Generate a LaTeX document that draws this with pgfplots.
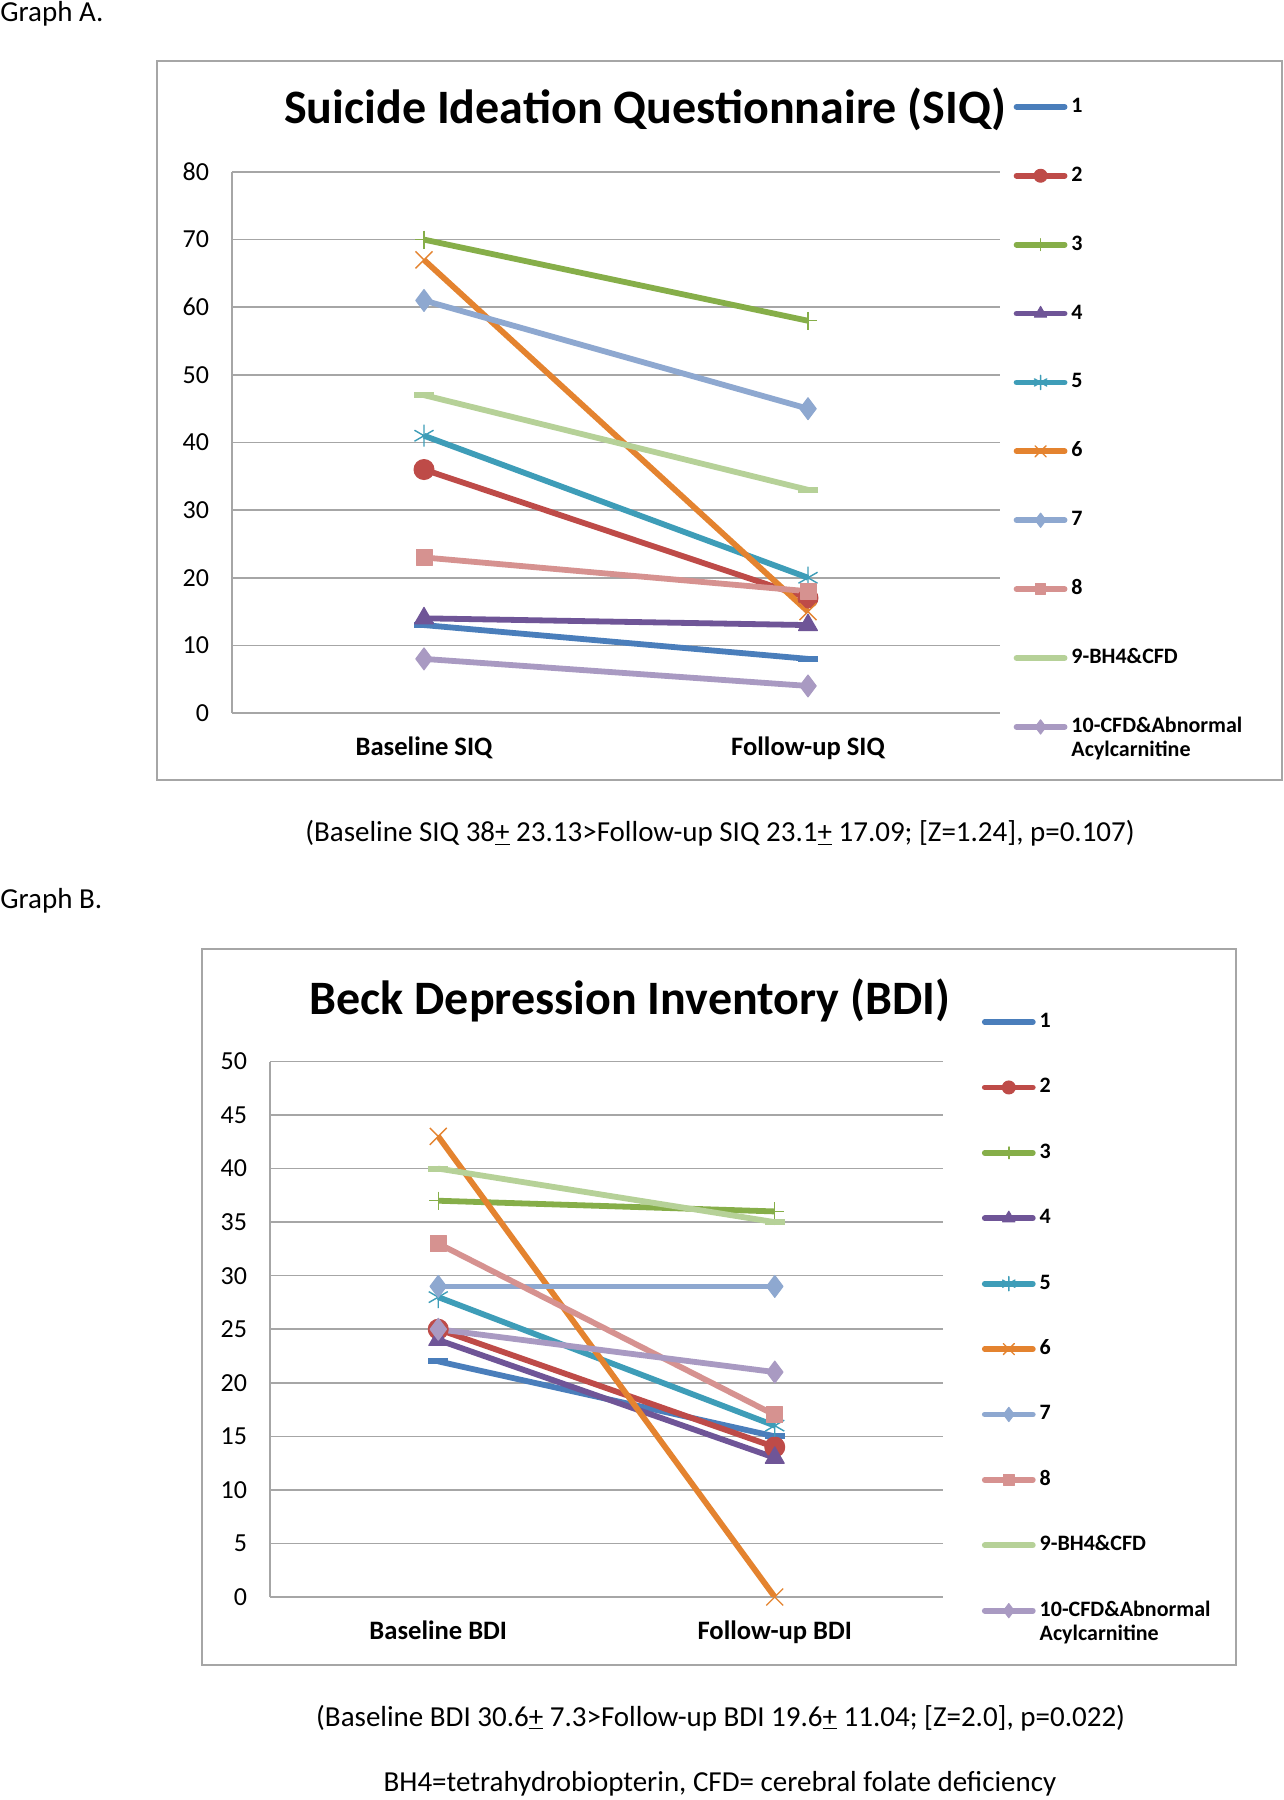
\documentclass[border=0pt]{standalone}
\usepackage{fontspec}
\setmainfont{Carlito}
\usepackage{pgfplots}
\usepackage{pgfplotstable}
\pgfplotsset{compat=1.18}

\definecolor{c1}{HTML}{4A7EBB}
\definecolor{c2}{HTML}{BE4B48}
\definecolor{c3}{HTML}{86AE49}
\definecolor{c4}{HTML}{6F5597}
\definecolor{c5}{HTML}{3E9DB8}
\definecolor{c6}{HTML}{E4832F}
\definecolor{c7}{HTML}{8EA8D0}
\definecolor{c8}{HTML}{D69290}
\definecolor{c9}{HTML}{B6D198}
\definecolor{c10}{HTML}{A99AC2}
\definecolor{gridc}{HTML}{A6A6A6}
\definecolor{framec}{HTML}{A6A6A6}

\pgfplotstableread{
x  s1 s2 s3 s4 s5 s6 s7 s8 s9 s10
0  13 36 70 14 41 67 61 23 47 8
1  8  17 58 13 20 15 45 18 33 4
}\dataA
\pgfplotstableread{
x  s1 s2 s3 s4 s5 s6 s7 s8 s9 s10
0  22 25 37 24 28 43 29 33 40 25
1  15 14 36 13 16 0  29 17 35 21
}\dataB

\pgfplotsset{
  excelstyle/.style={
    scale only axis,
    xmin=-0.5, xmax=1.5, ymin=0,
    axis x line*=bottom, axis y line*=left,
    axis line style={-, draw=gridc, line width=0.8pt},
    xtick={0,1},
    major tick length=0pt,
    ymajorgrids,
    grid style={draw=gridc, line width=0.8pt},
    /pgf/number format/assume math mode=true,
    yticklabel style={font=\fontsize{13}{15}\selectfont, xshift=-8pt},
    xticklabel style={font=\bfseries\fontsize{13.3}{15}\selectfont, yshift=-8.5pt},
    every axis plot/.append style={line width=2.9pt, line join=round},
    legend cell align=left,
    legend image code/.code={\draw[mark repeat=2,mark phase=2,line cap=round,#1,every mark/.append style={scale=0.65}] plot coordinates {(0pt,0pt) (12pt,0pt) (24pt,0pt)};},
  },
  s1/.style={color=c1, mark=-, mark size=5pt, mark options={line width=2.9pt}},
  s2/.style={color=c2, mark=*, mark size=5pt, mark options={fill=c2, line width=0.5pt}},
  s3/.style={color=c3, mark=+, mark size=4.5pt, mark options={line width=0.7pt}},
  s4/.style={color=c4, mark=triangle*, mark size=5.5pt, mark options={fill=c4, line width=0.5pt}},
  s5/.style={color=c5, mark=asterisk, mark size=5.5pt, mark options={line width=0.7pt}},
  s6/.style={color=c6, mark=x, mark size=6pt, mark options={line width=0.7pt}},
  s7/.style={color=c7, mark=diamond*, mark size=5.5pt, mark options={fill=c7, line width=0.5pt}},
  s8/.style={color=c8, mark=square*, mark size=4pt, mark options={fill=c8, line width=0.5pt}},
  s9/.style={color=c9, mark=-, mark size=5pt, mark options={line width=2.9pt}},
  s10/.style={color=c10, mark=diamond*, mark size=5.5pt, mark options={fill=c10, line width=0.5pt}},
}

\begin{document}
\begin{tikzpicture}
\fill[white] (0pt,0pt) rectangle (642pt,900pt);
\useasboundingbox (0pt,0pt) rectangle (642pt,900pt);

% Graph A
\node[anchor=west, inner sep=0pt, font=\fontsize{14.5}{16}\selectfont] at (0pt,893pt) {Graph A.};
\draw[framec, line width=0.8pt] (78.5pt,510pt) rectangle (641pt,869.5pt);
\node[font=\bfseries\fontsize{24}{28}\selectfont, inner sep=0pt] at (322.7pt,845.5pt) {Suicide Ideation Questionnaire (SIQ)};

\begin{axis}[excelstyle,
  at={(116pt,543.5pt)}, anchor=south west,
  width=384pt, height=270.5pt,
  ymax=80, ytick={0,10,...,80},
  xticklabels={Baseline SIQ, Follow-up SIQ},
  legend style={draw=none, fill=none, at={(1.0178,1.138)}, anchor=north west,
    inner sep=0pt, outer sep=0pt, row sep=24.95pt, column sep=2pt,
    font=\bfseries\fontsize{11}{13}\selectfont,
    nodes={inner sep=0pt, text height=7.5pt, text depth=2pt}},
]
\addplot[s1] table[x=x,y=s1] {\dataA}; \addlegendentry{1}
\addplot[s2] table[x=x,y=s2] {\dataA}; \addlegendentry{2}
\addplot[s3] table[x=x,y=s3] {\dataA}; \addlegendentry{3}
\addplot[s4] table[x=x,y=s4] {\dataA}; \addlegendentry{4}
\addplot[s5] table[x=x,y=s5] {\dataA}; \addlegendentry{5}
\addplot[s6] table[x=x,y=s6] {\dataA}; \addlegendentry{6}
\addplot[s7] table[x=x,y=s7] {\dataA}; \addlegendentry{7}
\addplot[s8] table[x=x,y=s8] {\dataA}; \addlegendentry{8}
\addplot[s9] table[x=x,y=s9] {\dataA}; \addlegendentry{9-BH4\&CFD}
\addplot[s10] table[x=x,y=s10] {\dataA}; \addlegendentry{\begin{tabular}[t]{@{}l@{}}10-CFD\&Abnormal\\[-1pt]Acylcarnitine\end{tabular}}
\end{axis}

\node[font=\fontsize{14.5}{16}\selectfont, inner sep=0pt] at (360pt,483.5pt) {(Baseline SIQ 38\underline{+} 23.13>Follow-up SIQ 23.1\underline{+} 17.09; [Z=1.24], p=0.107)};

% Graph B
\node[anchor=west, inner sep=0pt, font=\fontsize{14.5}{16}\selectfont] at (0pt,449.6pt) {Graph B.};
\draw[framec, line width=0.8pt] (101pt,67.5pt) rectangle (618pt,425.5pt);
\node[font=\bfseries\fontsize{24}{28}\selectfont, inner sep=0pt] at (315pt,399.7pt) {Beck Depression Inventory (BDI)};

\begin{axis}[excelstyle,
  at={(135pt,101.5pt)}, anchor=south west,
  width=336.5pt, height=267.75pt,
  ymax=50, ytick={0,5,...,50},
  xticklabels={Baseline BDI, Follow-up BDI},
  legend style={draw=none, fill=none, at={(1.0578,1.0914)}, anchor=north west,
    inner sep=0pt, outer sep=0pt, row sep=23.2pt, column sep=2pt,
    font=\bfseries\fontsize{11}{13}\selectfont,
    nodes={inner sep=0pt, text height=7.5pt, text depth=2pt}},
]
\addplot[s1] table[x=x,y=s1] {\dataB}; \addlegendentry{1}
\addplot[s2] table[x=x,y=s2] {\dataB}; \addlegendentry{2}
\addplot[s3] table[x=x,y=s3] {\dataB}; \addlegendentry{3}
\addplot[s4] table[x=x,y=s4] {\dataB}; \addlegendentry{4}
\addplot[s5] table[x=x,y=s5] {\dataB}; \addlegendentry{5}
\addplot[s6] table[x=x,y=s6] {\dataB}; \addlegendentry{6}
\addplot[s7] table[x=x,y=s7] {\dataB}; \addlegendentry{7}
\addplot[s8] table[x=x,y=s8] {\dataB}; \addlegendentry{8}
\addplot[s9] table[x=x,y=s9] {\dataB}; \addlegendentry{9-BH4\&CFD}
\addplot[s10] table[x=x,y=s10] {\dataB}; \addlegendentry{\begin{tabular}[t]{@{}l@{}}10-CFD\&Abnormal\\[-1pt]Acylcarnitine\end{tabular}}
\end{axis}

\node[font=\fontsize{14.5}{16}\selectfont, inner sep=0pt] at (360.3pt,41.1pt) {(Baseline BDI 30.6\underline{+} 7.3>Follow-up BDI 19.6\underline{+} 11.04; [Z=2.0], p=0.022)};
\node[font=\fontsize{14.5}{16}\selectfont, inner sep=0pt] at (360pt,8pt) {BH4=tetrahydrobiopterin, CFD= cerebral folate deficiency};
\end{tikzpicture}
\end{document}
